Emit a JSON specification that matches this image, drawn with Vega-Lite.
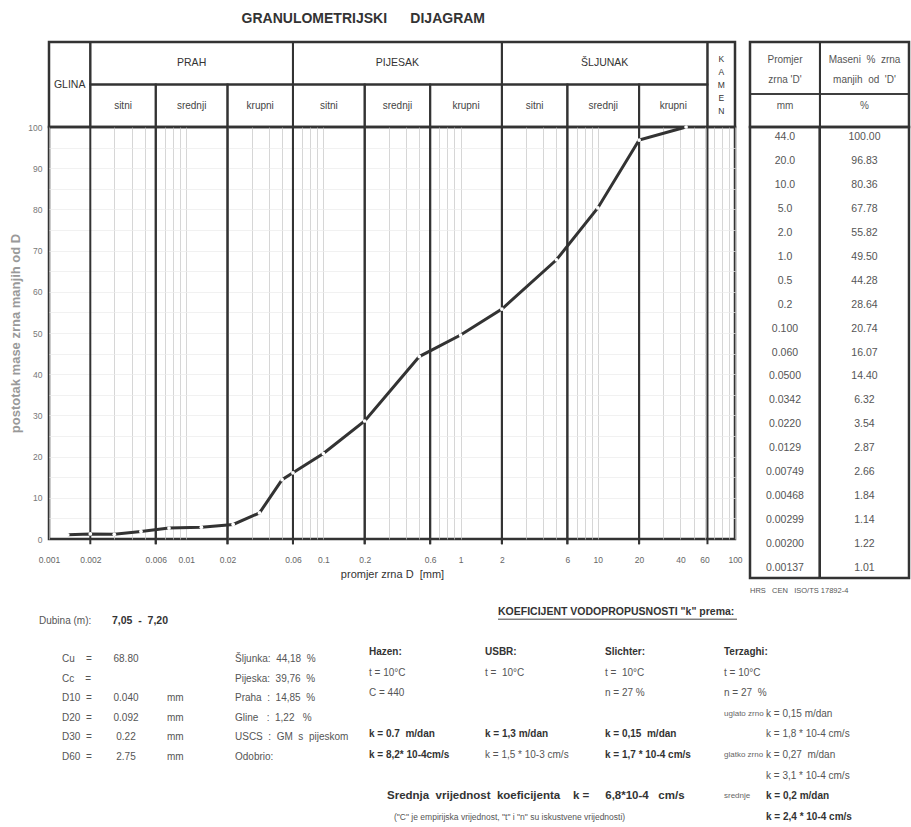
{
"$schema":"https://vega.github.io/schema/vega-lite/v6.json",
"background":"white",
"padding":{"left":8,"top":11,"right":0,"bottom":0},
"title":{"text":"GRANULOMETRIJSKI\u00a0\u00a0\u00a0\u00a0\u00a0\u00a0DIJAGRAM","anchor":"start","dx":233,"fontSize":14,"fontWeight":"bold","color":"#333","font":"Liberation Sans","offset":14},
"config":{"view":{"stroke":null},"font":"Liberation Sans","text":{"font":"Liberation Sans","fontSize":10,"color":"#555","baseline":"middle","align":"left"}},
"datasets":{
"sieve":[
{"dLabel":"44.0","d":44.0,"p":100.00},
{"dLabel":"20.0","d":20.0,"p":96.83},
{"dLabel":"10.0","d":10.0,"p":80.36},
{"dLabel":"5.0","d":5.0,"p":67.78},
{"dLabel":"2.0","d":2.0,"p":55.82},
{"dLabel":"1.0","d":1.0,"p":49.50},
{"dLabel":"0.5","d":0.5,"p":44.28},
{"dLabel":"0.2","d":0.2,"p":28.64},
{"dLabel":"0.100","d":0.1,"p":20.74},
{"dLabel":"0.060","d":0.06,"p":16.07},
{"dLabel":"0.0500","d":0.05,"p":14.40},
{"dLabel":"0.0342","d":0.0342,"p":6.32},
{"dLabel":"0.0220","d":0.022,"p":3.54},
{"dLabel":"0.0129","d":0.0129,"p":2.87},
{"dLabel":"0.00749","d":0.00749,"p":2.66},
{"dLabel":"0.00468","d":0.00468,"p":1.84},
{"dLabel":"0.00299","d":0.00299,"p":1.14},
{"dLabel":"0.00200","d":0.002,"p":1.22},
{"dLabel":"0.00137","d":0.00137,"p":1.01}
],
"classes":[
{"name":"GLINA","lo":0.001,"hi":0.002,"tier":"full"},
{"name":"PRAH","lo":0.002,"hi":0.06,"tier":"main"},
{"name":"PIJESAK","lo":0.06,"hi":2,"tier":"main"},
{"name":"ŠLJUNAK","lo":2,"hi":63,"tier":"main"},
{"name":"KAMEN","lo":63,"hi":100,"tier":"full"},
{"name":"sitni","lo":0.002,"hi":0.006,"tier":"sub"},
{"name":"srednji","lo":0.006,"hi":0.02,"tier":"sub"},
{"name":"krupni","lo":0.02,"hi":0.06,"tier":"sub"},
{"name":"sitni","lo":0.06,"hi":0.2,"tier":"sub"},
{"name":"srednji","lo":0.2,"hi":0.6,"tier":"sub"},
{"name":"krupni","lo":0.6,"hi":2,"tier":"sub"},
{"name":"sitni","lo":2,"hi":6,"tier":"sub"},
{"name":"srednji","lo":6,"hi":20,"tier":"sub"},
{"name":"krupni","lo":20,"hi":63,"tier":"sub"}
],
"tablehead":[
{"col":0,"line1":"Promjer","line2":"zrna 'D'","unit":"mm"},
{"col":1,"line1":"Maseni\u00a0 %\u00a0 zrna","line2":"manjih\u00a0 od\u00a0 'D'","unit":"%"}
],
"notes":[
{"block":"koef","role":"heading","text":"KOEFICIJENT VODOPROPUSNOSTI \"k\" prema:"},
{"block":"dubina","role":"detail","text":"Dubina (m):"},
{"block":"dubinaVal","role":"result","text":"7,05\u00a0\u00a0-\u00a0\u00a07,20"},
{"block":"param","line":0,"text":"Cu\u00a0\u00a0\u00a0\u00a0=","value":"68.80","unit":""},
{"block":"param","line":1,"text":"Cc\u00a0\u00a0\u00a0\u00a0=","value":"","unit":""},
{"block":"param","line":2,"text":"D10\u00a0 =","value":"0.040","unit":"mm"},
{"block":"param","line":3,"text":"D20\u00a0 =","value":"0.092","unit":"mm"},
{"block":"param","line":4,"text":"D30\u00a0 =","value":"0.22","unit":"mm"},
{"block":"param","line":5,"text":"D60\u00a0 =","value":"2.75","unit":"mm"},
{"block":"frac","line":0,"text":"Šljunka:\u00a0 44,18\u00a0 %"},
{"block":"frac","line":1,"text":"Pijeska:\u00a0 39,76\u00a0 %"},
{"block":"frac","line":2,"text":"Praha\u00a0 :\u00a0 14,85\u00a0 %"},
{"block":"frac","line":3,"text":"Gline\u00a0\u00a0 :\u00a0 1,22\u00a0\u00a0 %"},
{"block":"frac","line":4,"text":"USCS\u00a0 :\u00a0 GM\u00a0 s\u00a0 pijeskom"},
{"block":"frac","line":5,"text":"Odobrio:"},
{"block":"hazen","role":"heading","line":0,"text":"Hazen:"},
{"block":"hazen","role":"detail","line":1,"text":"t = 10°C"},
{"block":"hazen","role":"detail","line":2,"text":"C = 440"},
{"block":"hazen","role":"result","line":4,"text":"k = 0.7\u00a0 m/dan"},
{"block":"hazen","role":"result","line":5,"text":"k = 8,2* 10-4cm/s"},
{"block":"usbr","role":"heading","line":0,"text":"USBR:"},
{"block":"usbr","role":"detail","line":1,"text":"t =\u00a0 10°C"},
{"block":"usbr","role":"result","line":4,"text":"k = 1,3 m/dan"},
{"block":"usbr","role":"detail","line":5,"text":"k = 1,5 * 10-3 cm/s"},
{"block":"slichter","role":"heading","line":0,"text":"Slichter:"},
{"block":"slichter","role":"detail","line":1,"text":"t =\u00a0 10°C"},
{"block":"slichter","role":"detail","line":2,"text":"n = 27 %"},
{"block":"slichter","role":"result","line":4,"text":"k = 0,15\u00a0 m/dan"},
{"block":"slichter","role":"result","line":5,"text":"k = 1,7 * 10-4 cm/s"},
{"block":"terzaghi","role":"heading","line":0,"text":"Terzaghi:"},
{"block":"terzaghi","role":"detail","line":1,"text":"t = 10°C"},
{"block":"terzaghi","role":"detail","line":2,"text":"n = 27\u00a0 %"},
{"block":"terzaghi","role":"label","line":3,"text":"uglato zrno"},
{"block":"terzaghi","role":"label","line":5,"text":"glatko zrno"},
{"block":"terzaghi","role":"label","line":7,"text":"srednje"},
{"block":"terzK","role":"detail","line":3,"text":"k = 0,15 m/dan"},
{"block":"terzK","role":"detail","line":4,"text":"k = 1,8 * 10-4 cm/s"},
{"block":"terzK","role":"detail","line":5,"text":"k = 0,27\u00a0 m/dan"},
{"block":"terzK","role":"detail","line":6,"text":"k = 3,1 * 10-4 cm/s"},
{"block":"terzK","role":"result","line":7,"text":"k = 0,2 m/dan"},
{"block":"terzK","role":"result","line":8,"text":"k = 2,4 * 10-4 cm/s"},
{"block":"avg","role":"result","line":7,"text":"Srednja\u00a0 vrijednost\u00a0 koeficijenta\u00a0\u00a0\u00a0 k =\u00a0\u00a0\u00a0\u00a0 6,8*10-4\u00a0\u00a0 cm/s"},
{"block":"footnote","role":"detail","line":8,"text":"(\"C\" je empirijska vrijednost, \"t\" i \"n\" su iskustvene vrijednosti)"}
]
},
"columns":2,
"spacing":{"row":0,"column":15},
"bounds":"flush",
"align":"each",
"concat":[
{
"width":686,"height":85,
"view":{"stroke":"#333","strokeWidth":2.5},
"data":{"name":"classes"},
"transform":[{"calculate":"sqrt(datum.lo*datum.hi)","as":"mid"}],
"layer":[
{"transform":[{"filter":"datum.tier=='full'"}],"mark":{"type":"rect","fill":"transparent","stroke":"#333","strokeWidth":2},
"encoding":{"x":{"field":"lo","type":"quantitative","scale":{"type":"log","domain":[0.001,100]},"axis":null},"x2":{"field":"hi"},
"y":{"datum":0,"type":"quantitative","scale":{"domain":[0,2]},"axis":null},"y2":{"datum":2}}},
{"transform":[{"filter":"datum.tier=='main'"}],"mark":{"type":"rect","fill":"transparent","stroke":"#333","strokeWidth":2},
"encoding":{"x":{"field":"lo","type":"quantitative","scale":{"type":"log","domain":[0.001,100]},"axis":null},"x2":{"field":"hi"},
"y":{"datum":1,"type":"quantitative","scale":{"domain":[0,2]},"axis":null},"y2":{"datum":2}}},
{"transform":[{"filter":"datum.tier=='sub'"}],"mark":{"type":"rect","fill":"transparent","stroke":"#333","strokeWidth":2},
"encoding":{"x":{"field":"lo","type":"quantitative","scale":{"type":"log","domain":[0.001,100]},"axis":null},"x2":{"field":"hi"},
"y":{"datum":0,"type":"quantitative","scale":{"domain":[0,2]},"axis":null},"y2":{"datum":1}}},
{"transform":[{"filter":"datum.tier=='full' && datum.name!='KAMEN'"}],
"mark":{"type":"text","align":"center","fontSize":10.5,"color":"#333"},
"encoding":{"x":{"field":"mid","type":"quantitative","scale":{"type":"log","domain":[0.001,100]},"axis":null},
"y":{"datum":1,"type":"quantitative","scale":{"domain":[0,2]},"axis":null},"text":{"field":"name","type":"nominal"}}},
{"transform":[{"filter":"datum.name=='KAMEN'"},{"calculate":"split(datum.name,'')","as":"label"}],
"mark":{"type":"text","align":"center","fontSize":8.5,"lineHeight":13,"color":"#333","dy":-26},
"encoding":{"x":{"field":"mid","type":"quantitative","scale":{"type":"log","domain":[0.001,100]},"axis":null},
"y":{"datum":1,"type":"quantitative","scale":{"domain":[0,2]},"axis":null},"text":{"field":"label","type":"nominal"}}},
{"transform":[{"filter":"datum.tier=='main'"}],
"mark":{"type":"text","align":"center","fontSize":10.5,"color":"#333"},
"encoding":{"x":{"field":"mid","type":"quantitative","scale":{"type":"log","domain":[0.001,100]},"axis":null},
"y":{"datum":1.5,"type":"quantitative","scale":{"domain":[0,2]},"axis":null},"text":{"field":"name","type":"nominal"}}},
{"transform":[{"filter":"datum.tier=='sub'"}],
"mark":{"type":"text","align":"center","fontSize":10,"color":"#444"},
"encoding":{"x":{"field":"mid","type":"quantitative","scale":{"type":"log","domain":[0.001,100]},"axis":null},
"y":{"datum":0.5,"type":"quantitative","scale":{"domain":[0,2]},"axis":null},"text":{"field":"name","type":"nominal"}}}
]
},
{
"width":159,"height":85,
"view":{"stroke":"#333","strokeWidth":2.5},
"data":{"name":"tablehead"},
"layer":[
{"mark":{"type":"text","align":"center","fontSize":10,"color":"#555"},
"encoding":{"x":{"field":"col","type":"quantitative","scale":{"domain":[-0.44,1.56]},"axis":null},
"y":{"datum":1.8,"type":"quantitative","scale":{"domain":[0,8.5],"reverse":true},"axis":null},"text":{"field":"line1","type":"nominal"}}},
{"mark":{"type":"text","align":"center","fontSize":10,"color":"#555"},
"encoding":{"x":{"field":"col","type":"quantitative","scale":{"domain":[-0.44,1.56]},"axis":null},
"y":{"datum":3.8,"type":"quantitative","scale":{"domain":[0,8.5],"reverse":true},"axis":null},"text":{"field":"line2","type":"nominal"}}},
{"mark":{"type":"text","align":"center","fontSize":10,"color":"#555"},
"encoding":{"x":{"field":"col","type":"quantitative","scale":{"domain":[-0.44,1.56]},"axis":null},
"y":{"datum":6.4,"type":"quantitative","scale":{"domain":[0,8.5],"reverse":true},"axis":null},"text":{"field":"unit","type":"nominal"}}},
{"mark":{"type":"rule","color":"#333","strokeWidth":2},
"encoding":{"x":{"datum":0.44,"type":"quantitative","scale":{"domain":[-0.44,1.56]},"axis":null}}},
{"mark":{"type":"rule","color":"#333","strokeWidth":1.5},
"encoding":{"y":{"datum":5.2,"type":"quantitative","scale":{"domain":[0,8.5],"reverse":true},"axis":null}}}
]
},
{
"width":686,"height":412,
"view":{"stroke":"#333","strokeWidth":2.5},
"resolve":{"axis":{"x":"independent","y":"independent"}},
"layer":[
{"data":{"name":"sieve"},"mark":{"type":"point","opacity":0},
"encoding":{"x":{"field":"d","type":"quantitative","scale":{"type":"log","domain":[0.001,100]},
"axis":{"orient":"top","grid":true,"gridColor":"#c4c4c4","gridWidth":0.7,"values":[0.001,0.002,0.003,0.004,0.005,0.006,0.007,0.008,0.009,0.01,0.02,0.03,0.04,0.05,0.06,0.07,0.08,0.09,0.1,0.2,0.3,0.4,0.5,0.6,0.7,0.8,0.9,1,2,3,4,5,6,7,8,9,10,20,30,40,50,60,70,80,90,100],"labels":false,"ticks":false,"domain":false,"title":null}},
"y":{"field":"p","type":"quantitative","scale":{"domain":[0,100]},
"axis":{"orient":"right","grid":true,"gridColor":"#ebebeb","gridWidth":0.7,"values":[5,10,15,20,25,30,35,40,45,50,55,60,65,70,75,80,85,90,95],"labels":false,"ticks":false,"domain":false,"title":null}}}},
{"data":{"name":"classes"},"transform":[{"filter":"datum.tier=='sub'"}],"mark":{"type":"rule","color":"#333","strokeWidth":2},
"encoding":{"x":{"field":"lo","type":"quantitative","scale":{"type":"log","domain":[0.001,100]},
"axis":{"orient":"bottom","values":[0.001,0.002,0.006,0.01,0.02,0.06,0.1,0.2,0.6,1,2,6,10,20,40,60,100],"format":"~g","grid":false,"ticks":false,"domain":false,"labelFontSize":8.5,"labelColor":"#666","labelPadding":16,"labelOverlap":false,"labelFlush":false,"labelFont":"Liberation Sans","title":"promjer zrna D\u00a0 [mm]","titleFont":"Liberation Sans","titleFontSize":11,"titleFontWeight":"normal","titleColor":"#333","titlePadding":5}},
"y":{"datum":-1.3,"type":"quantitative","scale":{"domain":[0,100]},
"axis":{"orient":"left","values":[0,10,20,30,40,50,60,70,80,90,100],"grid":false,"ticks":false,"domain":false,"labelFontSize":8.5,"labelColor":"#777","labelPadding":7,"labelFont":"Liberation Sans","title":"postotak mase zrna manjih od D","titleFont":"Liberation Sans","titleFontSize":13,"titleFontWeight":"bold","titleColor":"#999","titlePadding":5}},
"y2":{"datum":100}}},
{"data":{"name":"classes"},"transform":[{"filter":"datum.tier=='sub'"}],"mark":{"type":"rule","color":"#333","strokeWidth":2},
"encoding":{"x":{"field":"hi","type":"quantitative","scale":{"type":"log","domain":[0.001,100]},"axis":null},
"y":{"datum":-1.3,"type":"quantitative","scale":{"domain":[0,100]},"axis":null},"y2":{"datum":100}}},
{"data":{"name":"sieve"},"mark":{"type":"line","color":"#333","strokeWidth":3},
"encoding":{"x":{"field":"d","type":"quantitative","scale":{"type":"log","domain":[0.001,100]},"axis":null},
"y":{"field":"p","type":"quantitative","scale":{"domain":[0,100]},"axis":null}}},
{"data":{"name":"sieve"},"mark":{"type":"point","filled":true,"color":"white","opacity":1,"size":14},
"encoding":{"x":{"field":"d","type":"quantitative","scale":{"type":"log","domain":[0.001,100]},"axis":null},
"y":{"field":"p","type":"quantitative","scale":{"domain":[0,100]},"axis":null}}}
]
},
{
"width":159,"height":451,
"view":{"stroke":"#333","strokeWidth":2.5},
"data":{"name":"sieve"},
"title":{"text":"HRS\u00a0\u00a0 CEN\u00a0\u00a0 ISO/TS 17892-4","orient":"bottom","anchor":"start","fontSize":7.5,"fontWeight":"normal","color":"#555","font":"Liberation Sans","offset":8},
"layer":[
{"mark":{"type":"rule","color":"#333","strokeWidth":2},
"encoding":{"x":{"datum":0.44,"type":"quantitative","scale":{"domain":[-0.44,1.56]},"axis":null}}},
{"mark":{"type":"text","align":"center","fontSize":10.5,"color":"#555"},
"encoding":{"x":{"datum":0,"type":"quantitative","scale":{"domain":[-0.44,1.56]},"axis":null},
"y":{"field":"dLabel","type":"ordinal","sort":{"field":"d","op":"max","order":"descending"},"scale":{"type":"point","padding":0.4},"axis":null},
"text":{"field":"dLabel","type":"nominal"}}},
{"mark":{"type":"text","align":"center","fontSize":10.5,"color":"#555"},
"encoding":{"x":{"datum":1,"type":"quantitative","scale":{"domain":[-0.44,1.56]},"axis":null},
"y":{"field":"dLabel","type":"ordinal","sort":{"field":"d","op":"max","order":"descending"},"scale":{"type":"point","padding":0.4},"axis":null},
"text":{"field":"p","type":"quantitative","format":".2f"}}}
]
},
{
"width":686,"height":244,
"data":{"name":"notes"},
"resolve":{"scale":{"y":"independent"}},
"layer":[
{"transform":[{"filter":"datum.block=='koef'"}],"mark":{"type":"text","fontWeight":"bold","color":"#333","fontSize":10.5},
"encoding":{"x":{"datum":44.9,"type":"quantitative","scale":{"domain":[0,68.6]},"axis":null},"y":{"datum":-1.95,"type":"quantitative","scale":{"domain":[-3.6,8.25],"reverse":true},"axis":null},"text":{"field":"text","type":"nominal"}}},
{"transform":[{"filter":"datum.block=='koef'"}],"mark":{"type":"rule","color":"#444","strokeWidth":1},
"encoding":{"x":{"datum":44.9,"type":"quantitative","scale":{"domain":[0,68.6]},"axis":null},"x2":{"datum":68.8},"y":{"datum":-1.6,"type":"quantitative","scale":{"domain":[-3.6,8.25],"reverse":true},"axis":null}}},
{"transform":[{"filter":"datum.block=='dubina'"}],"mark":{"type":"text"},
"encoding":{"x":{"datum":-1.0,"type":"quantitative","scale":{"domain":[0,68.6]},"axis":null},"y":{"datum":-1.5,"type":"quantitative","scale":{"domain":[-3.6,8.25],"reverse":true},"axis":null},"text":{"field":"text","type":"nominal"}}},
{"transform":[{"filter":"datum.block=='dubinaVal'"}],"mark":{"type":"text","fontWeight":"bold","color":"#333","fontSize":10.5},
"encoding":{"x":{"datum":6.3,"type":"quantitative","scale":{"domain":[0,68.6]},"axis":null},"y":{"datum":-1.5,"type":"quantitative","scale":{"domain":[-3.6,8.25],"reverse":true},"axis":null},"text":{"field":"text","type":"nominal"}}},
{"transform":[{"filter":"datum.block=='param'"}],"mark":{"type":"text"},
"encoding":{"x":{"datum":1.3,"type":"quantitative","scale":{"domain":[0,68.6]},"axis":null},"y":{"field":"line","type":"quantitative","scale":{"domain":[-4.133,8.316],"reverse":true},"axis":null},"text":{"field":"text","type":"nominal"}}},
{"transform":[{"filter":"datum.block=='param'"}],"mark":{"type":"text","align":"center"},
"encoding":{"x":{"datum":7.7,"type":"quantitative","scale":{"domain":[0,68.6]},"axis":null},"y":{"field":"line","type":"quantitative","scale":{"domain":[-4.133,8.316],"reverse":true},"axis":null},"text":{"field":"value","type":"nominal"}}},
{"transform":[{"filter":"datum.block=='param'"}],"mark":{"type":"text"},
"encoding":{"x":{"datum":11.8,"type":"quantitative","scale":{"domain":[0,68.6]},"axis":null},"y":{"field":"line","type":"quantitative","scale":{"domain":[-4.133,8.316],"reverse":true},"axis":null},"text":{"field":"unit","type":"nominal"}}},
{"transform":[{"filter":"datum.block=='frac'"}],"mark":{"type":"text"},
"encoding":{"x":{"datum":18.6,"type":"quantitative","scale":{"domain":[0,68.6]},"axis":null},"y":{"field":"line","type":"quantitative","scale":{"domain":[-4.133,8.316],"reverse":true},"axis":null},"text":{"field":"text","type":"nominal"}}},
{"transform":[{"filter":"datum.block=='hazen' && datum.role!='detail'"}],"mark":{"type":"text","fontWeight":"bold","color":"#333"},
"encoding":{"x":{"datum":32.0,"type":"quantitative","scale":{"domain":[0,68.6]},"axis":null},"y":{"field":"line","type":"quantitative","scale":{"domain":[-3.6,8.25],"reverse":true},"axis":null},"text":{"field":"text","type":"nominal"}}},
{"transform":[{"filter":"datum.block=='hazen' && datum.role=='detail'"}],"mark":{"type":"text"},
"encoding":{"x":{"datum":32.0,"type":"quantitative","scale":{"domain":[0,68.6]},"axis":null},"y":{"field":"line","type":"quantitative","scale":{"domain":[-3.6,8.25],"reverse":true},"axis":null},"text":{"field":"text","type":"nominal"}}},
{"transform":[{"filter":"datum.block=='usbr' && datum.role!='detail'"}],"mark":{"type":"text","fontWeight":"bold","color":"#333"},
"encoding":{"x":{"datum":43.6,"type":"quantitative","scale":{"domain":[0,68.6]},"axis":null},"y":{"field":"line","type":"quantitative","scale":{"domain":[-3.6,8.25],"reverse":true},"axis":null},"text":{"field":"text","type":"nominal"}}},
{"transform":[{"filter":"datum.block=='usbr' && datum.role=='detail'"}],"mark":{"type":"text"},
"encoding":{"x":{"datum":43.6,"type":"quantitative","scale":{"domain":[0,68.6]},"axis":null},"y":{"field":"line","type":"quantitative","scale":{"domain":[-3.6,8.25],"reverse":true},"axis":null},"text":{"field":"text","type":"nominal"}}},
{"transform":[{"filter":"datum.block=='slichter' && datum.role!='detail'"}],"mark":{"type":"text","fontWeight":"bold","color":"#333"},
"encoding":{"x":{"datum":55.6,"type":"quantitative","scale":{"domain":[0,68.6]},"axis":null},"y":{"field":"line","type":"quantitative","scale":{"domain":[-3.6,8.25],"reverse":true},"axis":null},"text":{"field":"text","type":"nominal"}}},
{"transform":[{"filter":"datum.block=='slichter' && datum.role=='detail'"}],"mark":{"type":"text"},
"encoding":{"x":{"datum":55.6,"type":"quantitative","scale":{"domain":[0,68.6]},"axis":null},"y":{"field":"line","type":"quantitative","scale":{"domain":[-3.6,8.25],"reverse":true},"axis":null},"text":{"field":"text","type":"nominal"}}},
{"transform":[{"filter":"datum.block=='terzaghi' && datum.role=='heading'"}],"mark":{"type":"text","fontWeight":"bold","color":"#333"},
"encoding":{"x":{"datum":67.5,"type":"quantitative","scale":{"domain":[0,68.6]},"axis":null},"y":{"field":"line","type":"quantitative","scale":{"domain":[-3.6,8.25],"reverse":true},"axis":null},"text":{"field":"text","type":"nominal"}}},
{"transform":[{"filter":"datum.block=='terzaghi' && datum.role=='detail'"}],"mark":{"type":"text"},
"encoding":{"x":{"datum":67.5,"type":"quantitative","scale":{"domain":[0,68.6]},"axis":null},"y":{"field":"line","type":"quantitative","scale":{"domain":[-3.6,8.25],"reverse":true},"axis":null},"text":{"field":"text","type":"nominal"}}},
{"transform":[{"filter":"datum.block=='terzaghi' && datum.role=='label'"}],"mark":{"type":"text","fontSize":8,"color":"#666"},
"encoding":{"x":{"datum":67.5,"type":"quantitative","scale":{"domain":[0,68.6]},"axis":null},"y":{"field":"line","type":"quantitative","scale":{"domain":[-3.6,8.25],"reverse":true},"axis":null},"text":{"field":"text","type":"nominal"}}},
{"transform":[{"filter":"datum.block=='terzK' && datum.role!='detail'"}],"mark":{"type":"text","fontWeight":"bold","color":"#333"},
"encoding":{"x":{"datum":71.7,"type":"quantitative","scale":{"domain":[0,68.6]},"axis":null},"y":{"field":"line","type":"quantitative","scale":{"domain":[-3.6,8.25],"reverse":true},"axis":null},"text":{"field":"text","type":"nominal"}}},
{"transform":[{"filter":"datum.block=='terzK' && datum.role=='detail'"}],"mark":{"type":"text"},
"encoding":{"x":{"datum":71.7,"type":"quantitative","scale":{"domain":[0,68.6]},"axis":null},"y":{"field":"line","type":"quantitative","scale":{"domain":[-3.6,8.25],"reverse":true},"axis":null},"text":{"field":"text","type":"nominal"}}},
{"transform":[{"filter":"datum.block=='avg'"}],"mark":{"type":"text","fontWeight":"bold","color":"#333","fontSize":11.5},
"encoding":{"x":{"datum":33.8,"type":"quantitative","scale":{"domain":[0,68.6]},"axis":null},"y":{"field":"line","type":"quantitative","scale":{"domain":[-3.6,8.25],"reverse":true},"axis":null},"text":{"field":"text","type":"nominal"}}},
{"transform":[{"filter":"datum.block=='footnote'"}],"mark":{"type":"text","fontSize":8.5},
"encoding":{"x":{"datum":34.5,"type":"quantitative","scale":{"domain":[0,68.6]},"axis":null},"y":{"field":"line","type":"quantitative","scale":{"domain":[-3.6,8.25],"reverse":true},"axis":null},"text":{"field":"text","type":"nominal"}}}
]
}
]
}
